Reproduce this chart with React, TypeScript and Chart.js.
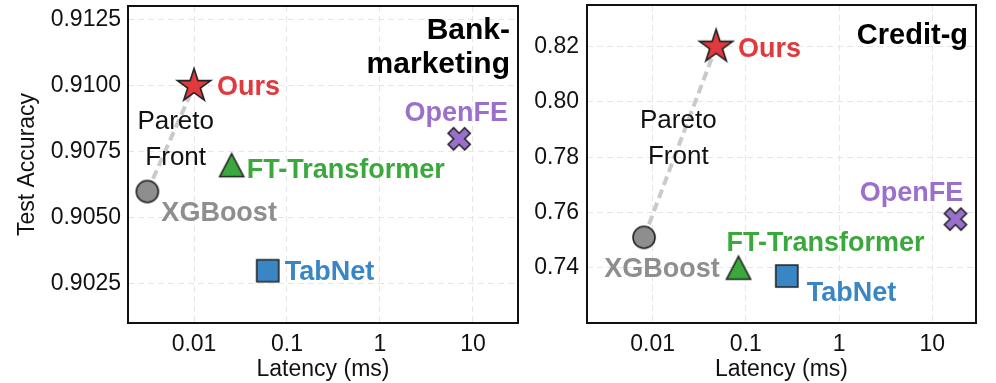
import React, { useEffect, useRef } from 'react';
import { Chart, registerables } from 'chart.js';

Chart.register(...registerables);

// ---------------- data ----------------
const methods = ['Ours', 'XGBoost', 'FT-Transformer', 'TabNet', 'OpenFE'];
const bankLatency = [0.01, 0.00315, 0.0254, 0.062, 7.1];
const bankAccuracy = [0.91, 0.906, 0.907, 0.903, 0.908];
const creditLatency = [0.048, 0.0081, 0.0835, 0.275, 17.7];
const creditAccuracy = [0.82, 0.751, 0.74, 0.737, 0.7576];
const xTickValues = [0.01, 0.1, 1, 10];
const xTickLabels = ['0.01', '0.1', '1', '10'];
const bankYTicks = [0.9025, 0.905, 0.9075, 0.91, 0.9125];
const bankYLabels = ['0.9025', '0.9050', '0.9075', '0.9100', '0.9125'];
const creditYTicks = [0.74, 0.76, 0.78, 0.8, 0.82];
const creditYLabels = ['0.74', '0.76', '0.78', '0.80', '0.82'];
const paretoPair = ['XGBoost', 'Ours'];
const paretoText = ['Pareto', 'Front'];
const bankTitle = ['Bank-', 'marketing'];
const creditTitle = ['Credit-g'];
const xAxisTitle = 'Latency (ms)';
const yAxisTitle = 'Test Accuracy';

// ---------------- style ----------------
const FONT = "'Liberation Sans', Arial, Helvetica, sans-serif";
const markerStyle: Record<string, { shape: string; color: string }> = {
  'Ours': { shape: 'star', color: '#e0393e' },
  'XGBoost': { shape: 'circle', color: '#8e8e8e' },
  'FT-Transformer': { shape: 'triangle', color: '#3ba83d' },
  'TabNet': { shape: 'square', color: '#3a86c4' },
  'OpenFE': { shape: 'x', color: '#9a70cc' },
};

function makeMarker(shape: string, fill: string): HTMLCanvasElement {
  const size = shape === 'star' ? 42 : 30;
  const c = document.createElement('canvas');
  c.width = size;
  c.height = size;
  const ctx = c.getContext('2d')!;
  const cx = size / 2;
  const cy = size / 2;
  ctx.beginPath();
  if (shape === 'circle') {
    ctx.arc(cx, cy, 11, 0, Math.PI * 2);
  } else if (shape === 'square') {
    ctx.rect(cx - 11, cy - 11, 22, 22);
  } else if (shape === 'triangle') {
    ctx.moveTo(cx, cy - 11.5);
    ctx.lineTo(cx + 12, cy + 11.5);
    ctx.lineTo(cx - 12, cy + 11.5);
    ctx.closePath();
  } else if (shape === 'star') {
    const ro = 17.5;
    const ri = ro * 0.381966;
    for (let k = 0; k < 10; k++) {
      const r = k % 2 ? ri : ro;
      const a = -Math.PI / 2 + (k * Math.PI) / 5;
      const px = cx + r * Math.cos(a);
      const py = cy + r * Math.sin(a);
      if (k === 0) ctx.moveTo(px, py);
      else ctx.lineTo(px, py);
    }
    ctx.closePath();
  } else if (shape === 'x') {
    const s = 23.4 / 6;
    const pts = [
      [-1, -3], [1, -3], [1, -1], [3, -1], [3, 1], [1, 1],
      [1, 3], [-1, 3], [-1, 1], [-3, 1], [-3, -1], [-1, -1],
    ];
    const ca = Math.cos(Math.PI / 4);
    pts.forEach(([px, py], k) => {
      const rx = (px * ca - py * ca) * s;
      const ry = (px * ca + py * ca) * s;
      if (k === 0) ctx.moveTo(cx + rx, cy + ry);
      else ctx.lineTo(cx + rx, cy + ry);
    });
    ctx.closePath();
  }
  ctx.fillStyle = fill;
  ctx.fill();
  ctx.lineWidth = 1.6;
  ctx.lineJoin = 'miter';
  ctx.strokeStyle = '#222222';
  ctx.stroke();
  return c;
}

type Offset = { dx: number; dy: number; align: CanvasTextAlign };

interface PanelCfg {
  left: number;
  width: number;
  latency: number[];
  accuracy: number[];
  xMin: number;
  xMax: number;
  yMin: number;
  yMax: number;
  yTicks: number[];
  yLabels: string[];
  yAxisWidth: number;
  yTickPad: number;
  showYTitle: boolean;
  padTop: number;
  padRight: number;
  offsets: Offset[];
  pareto: { dx: number; dy: number }[];
  title: string[];
  titleSize: number;
  titleRightInset: number;
  titleY: number[];
}

const panels: PanelCfg[] = [
  {
    left: 0,
    width: 525,
    latency: bankLatency,
    accuracy: bankAccuracy,
    xMin: 0.00195,
    xMax: 30.5,
    yMin: 0.90102,
    yMax: 0.91303,
    yTicks: bankYTicks,
    yLabels: bankYLabels,
    yAxisWidth: 128,
    yTickPad: 7,
    showYTitle: true,
    padTop: 6,
    padRight: 7,
    offsets: [
      { dx: 23, dy: 2, align: 'left' },
      { dx: 14, dy: 22, align: 'left' },
      { dx: 15, dy: 5, align: 'left' },
      { dx: 17, dy: 2, align: 'left' },
      { dx: -3, dy: -25, align: 'center' },
    ],
    pareto: [
      { dx: 47.7, dy: 116 },
      { dx: 47.7, dy: 151.5 },
    ],
    title: bankTitle,
    titleSize: 30,
    titleRightInset: 8,
    titleY: [25, 59],
  },
  {
    left: 525,
    width: 471,
    latency: creditLatency,
    accuracy: creditAccuracy,
    xMin: 0.00198,
    xMax: 29.4,
    yMin: 0.72,
    yMax: 0.8351,
    yTicks: creditYTicks,
    yLabels: creditYLabels,
    yAxisWidth: 62,
    yTickPad: 8,
    showYTitle: false,
    padTop: 5,
    padRight: 20,
    offsets: [
      { dx: 22, dy: 3, align: 'left' },
      { dx: 18, dy: 32, align: 'center' },
      { dx: -12, dy: -24, align: 'left' },
      { dx: 20, dy: 18, align: 'left' },
      { dx: -44, dy: -26, align: 'center' },
    ],
    pareto: [
      { dx: 91.3, dy: 115.5 },
      { dx: 91.3, dy: 151.5 },
    ],
    title: creditTitle,
    titleSize: 29,
    titleRightInset: 8,
    titleY: [31],
  },
];

function Panel({ cfg }: { cfg: PanelCfg }) {
  const ref = useRef<HTMLCanvasElement>(null);
  useEffect(() => {
    const canvas = ref.current!;
    const markers = methods.map((m) => makeMarker(markerStyle[m].shape, markerStyle[m].color));
    const points = cfg.latency.map((x, i) => ({ x, y: cfg.accuracy[i] }));
    const iA = methods.indexOf(paretoPair[0]);
    const iB = methods.indexOf(paretoPair[1]);

    const overlay = {
      id: 'overlay',
      afterDatasetsDraw(chart: any) {
        const ctx: CanvasRenderingContext2D = chart.ctx;
        const area = chart.chartArea;
        ctx.save();
        // Pareto text
        ctx.fillStyle = '#111111';
        ctx.font = `26px ${FONT}`;
        ctx.textAlign = 'center';
        ctx.textBaseline = 'middle';
        paretoText.forEach((t, k) => {
          ctx.fillText(t, area.left + cfg.pareto[k].dx, area.top + cfg.pareto[k].dy);
        });
        // method labels
        const meta = chart.getDatasetMeta(0);
        ctx.font = `bold 27px ${FONT}`;
        meta.data.forEach((el: any, i: number) => {
          const o = cfg.offsets[i];
          ctx.fillStyle = markerStyle[methods[i]].color;
          ctx.textAlign = o.align;
          ctx.fillText(methods[i], el.x + o.dx, el.y + o.dy);
        });
        // title
        ctx.fillStyle = '#000000';
        ctx.font = `bold ${cfg.titleSize}px ${FONT}`;
        ctx.textAlign = 'right';
        cfg.title.forEach((t, k) => {
          ctx.fillText(t, area.right - cfg.titleRightInset, area.top + cfg.titleY[k]);
        });
        ctx.restore();
      },
      afterDraw(chart: any) {
        const ctx: CanvasRenderingContext2D = chart.ctx;
        const a = chart.chartArea;
        ctx.save();
        ctx.strokeStyle = '#111111';
        ctx.lineWidth = 2;
        ctx.strokeRect(a.left, a.top, a.right - a.left, a.bottom - a.top);
        ctx.restore();
      },
    };

    const chart = new Chart(canvas, {
      type: 'scatter',
      data: {
        datasets: [
          {
            data: points,
            pointStyle: markers as any,
            pointRadius: 12,
            clip: false as any,
            order: 0,
          },
          {
            data: [points[iA], points[iB]],
            showLine: true,
            borderColor: '#cacaca',
            borderWidth: 4,
            borderDash: [9, 5],
            pointRadius: 0,
            fill: false,
            tension: 0,
            order: 1,
          } as any,
        ],
      },
      options: {
        animation: false,
        responsive: false,
        events: [],
        layout: { autoPadding: false, padding: { top: cfg.padTop, right: cfg.padRight, left: 0, bottom: 0 } },
        plugins: { legend: { display: false }, tooltip: { enabled: false } },
        scales: {
          x: {
            type: 'logarithmic',
            min: cfg.xMin,
            max: cfg.xMax,
            afterBuildTicks: (s: any) => {
              s.ticks = xTickValues.map((v) => ({ value: v }));
            },
            afterFit: (s: any) => {
              s.height = 60;
              s.paddingLeft = 0;
              s.paddingRight = 0;
            },
            ticks: {
              autoSkip: false,
              maxRotation: 0,
              padding: 8,
              color: '#111111',
              font: { family: FONT, size: 23 },
              callback: (v: any) => xTickLabels[xTickValues.indexOf(Number(v))] ?? '',
            },
            grid: { color: '#e6e6e6', lineWidth: 1, drawTicks: false },
            border: { display: false, dash: [6, 4] },
            title: {
              display: true,
              text: xAxisTitle,
              color: '#111111',
              font: { family: FONT, size: 23 },
              padding: { top: 0, bottom: 0 },
            },
          },
          y: {
            type: 'linear',
            min: cfg.yMin,
            max: cfg.yMax,
            afterBuildTicks: (s: any) => {
              s.ticks = cfg.yTicks.map((v) => ({ value: v }));
            },
            afterFit: (s: any) => {
              s.width = cfg.yAxisWidth;
              s.paddingTop = 0;
              s.paddingBottom = 0;
            },
            ticks: {
              autoSkip: false,
              padding: cfg.yTickPad,
              color: '#111111',
              font: { family: FONT, size: 23 },
              callback: (v: any) => {
                const idx = cfg.yTicks.findIndex((t) => Math.abs(t - Number(v)) < 1e-9);
                return idx >= 0 ? cfg.yLabels[idx] : '';
              },
            },
            grid: { color: '#e6e6e6', lineWidth: 1, drawTicks: false },
            border: { display: false, dash: [6, 4] },
            title: {
              display: cfg.showYTitle,
              text: yAxisTitle,
              color: '#111111',
              font: { family: FONT, size: 23 },
              padding: { top: 14, bottom: 0 },
            },
          },
        },
      },
      plugins: [overlay],
    } as any);
    return () => chart.destroy();
  }, [cfg]);

  return (
    <canvas
      ref={ref}
      width={cfg.width}
      height={383}
      style={{ position: 'absolute', left: cfg.left, top: 0, width: cfg.width, height: 383 }}
    />
  );
}

export default function App() {
  return (
    <div style={{ position: 'absolute', left: 0, top: 0, width: 996, height: 383, background: '#ffffff' }}>
      {panels.map((p, i) => (
        <Panel key={i} cfg={p} />
      ))}
    </div>
  );
}
